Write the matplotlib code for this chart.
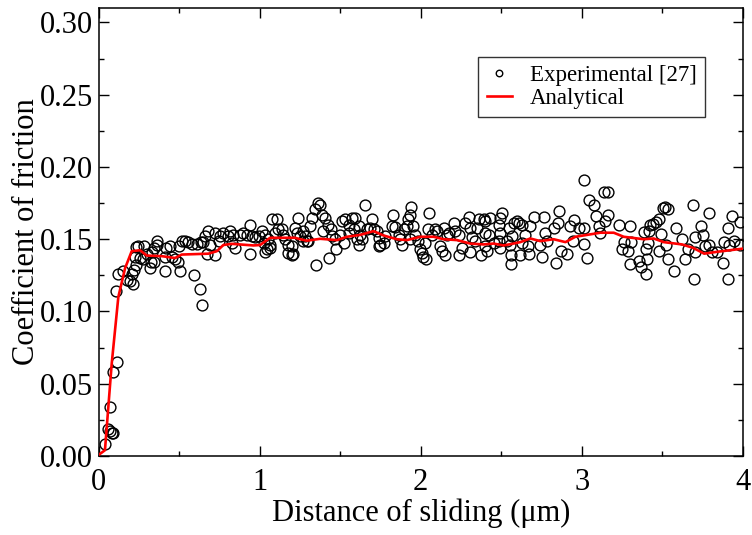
import matplotlib
matplotlib.use("Agg")
from matplotlib import pyplot as plt
from matplotlib.ticker import MultipleLocator, FormatStrFormatter

plt.rcParams['font.family'] = ['Liberation Serif', 'DejaVu Serif']

# Experimental points (distance in um, coefficient of friction)
exp_x = [0.040, 0.057, 0.071, 0.082, 0.092, 0.071, 0.092, 0.113,
         0.107, 0.119, 0.154, 0.179, 0.194, 0.212, 0.206, 0.222, 0.231,
         0.231, 0.247, 0.284, 0.227, 0.258, 0.278, 0.320, 0.326, 0.347,
         0.299, 0.334, 0.347, 0.361, 0.365, 0.413, 0.417, 0.444, 0.413,
         0.455, 0.475, 0.492, 0.508, 0.500, 0.517, 0.537, 0.558, 0.583,
         0.610, 0.637, 0.651, 0.595, 0.630, 0.641, 0.661, 0.682, 0.724,
         0.755, 0.775, 0.672, 0.724, 0.693, 0.749,
         0.817, 0.837, 0.806, 0.827, 0.848, 0.879, 0.899, 0.920, 0.941,
         0.952, 0.972, 0.993, 1.017, 1.034, 0.941, 1.030, 1.045, 1.065,
         1.055, 1.076, 1.107, 1.096, 1.117, 1.138, 1.148, 1.158, 1.179,
         1.200, 1.200, 1.220, 1.241, 1.231, 1.252, 1.272, 1.283, 1.293,
         1.314, 1.328, 1.345, 1.361, 1.376, 1.386, 1.407, 1.396, 1.427,
         1.444, 1.448, 1.469, 1.500, 1.510, 1.531, 1.552, 1.572, 1.556,
         1.583, 1.034, 1.065, 1.179, 1.210, 1.272, 1.303, 1.349, 1.432,
         1.473, 1.521,
         1.593, 1.614, 1.624, 1.604, 1.614, 1.635, 1.651, 1.666, 1.686,
         1.697, 1.707, 1.728, 1.738, 1.748, 1.738, 1.769, 1.780, 1.821,
         1.825, 1.842, 1.862, 1.873, 1.883, 1.893, 1.914, 1.924, 1.935,
         1.941, 1.955, 1.935, 1.966, 1.986, 1.997, 2.007, 2.017, 2.032,
         2.028, 2.053, 2.045, 2.069, 2.090, 2.101, 2.121, 2.132, 2.152,
         2.142, 2.163, 2.173, 2.204, 2.214, 2.235, 2.256, 2.239, 2.272,
         2.301, 2.307, 2.318, 2.307, 2.339, 2.349, 2.359, 2.376, 2.390,
         2.396,
         2.401, 2.432, 2.421, 2.401, 2.411, 2.452, 2.483, 2.494, 2.504,
         2.494, 2.483, 2.494, 2.535, 2.545, 2.566, 2.576, 2.556, 2.562,
         2.562, 2.597, 2.608, 2.618, 2.628, 2.649, 2.666, 2.670, 2.680,
         2.701, 2.742, 2.753, 2.763, 2.769, 2.784, 2.825, 2.840, 2.852,
         2.860, 2.873, 2.908, 2.929, 2.949, 2.943, 2.980, 3.011, 3.016,
         3.032, 3.014, 3.047, 3.073, 3.088, 3.104, 3.115, 3.135, 3.163,
         3.146, 3.163, 2.628,
         3.229, 3.301, 3.260, 3.250, 3.287, 3.307, 3.301, 3.353, 3.370,
         3.401, 3.405, 3.395, 3.411, 3.384, 3.415, 3.425, 3.440, 3.461,
         3.481, 3.502, 3.519, 3.535, 3.494, 3.477, 3.523, 3.535, 3.570,
         3.585, 3.622, 3.638, 3.660, 3.688, 3.705, 3.701, 3.697, 3.742,
         3.750, 3.788, 3.764, 3.788, 3.809, 3.840, 3.875, 3.881, 3.908,
         3.912, 3.908, 3.933, 3.943, 3.984, 3.984]
exp_y = [0.008, 0.019, 0.017, 0.016, 0.016, 0.034, 0.058, 0.065,
         0.114, 0.126, 0.128, 0.122, 0.121, 0.119, 0.126, 0.129, 0.132,
         0.1445, 0.1452, 0.1452, 0.138, 0.137, 0.136, 0.130, 0.134, 0.134,
         0.140, 0.141, 0.144, 0.146, 0.149, 0.128, 0.144, 0.145, 0.138,
         0.138, 0.136, 0.134, 0.128, 0.145, 0.149, 0.149, 0.148, 0.147,
         0.147, 0.148, 0.148, 0.1255, 0.1156, 0.1043, 0.152, 0.156, 0.154,
         0.152, 0.1545, 0.140, 0.139, 0.146, 0.149,
         0.1556, 0.153, 0.152, 0.1475, 0.144, 0.153, 0.1545, 0.153, 0.160,
         0.152, 0.1515, 0.152, 0.1556, 0.153, 0.140, 0.1475, 0.143, 0.146,
         0.150, 0.1637, 0.1637, 0.1545, 0.157, 0.157, 0.153, 0.150, 0.146,
         0.1394, 0.145, 0.158, 0.165, 0.1545, 0.152, 0.1556, 0.152, 0.149,
         0.159, 0.165, 0.1706, 0.1753, 0.174, 0.167, 0.165, 0.1556, 0.160,
         0.157, 0.152, 0.150, 0.153, 0.1625, 0.1637, 0.160, 0.1644, 0.1545,
         0.157, 0.1413, 0.144, 0.1406, 0.140, 0.1487, 0.149, 0.132, 0.137,
         0.143, 0.1475,
         0.165, 0.159, 0.153, 0.1503, 0.146, 0.150, 0.1736, 0.157, 0.158,
         0.1637, 0.157, 0.1556, 0.151, 0.146, 0.145, 0.1475, 0.152, 0.159,
         0.1667, 0.1584, 0.153, 0.150, 0.146, 0.157, 0.159, 0.1637, 0.1667,
         0.1722, 0.159, 0.150, 0.153, 0.1487, 0.143, 0.1406, 0.138, 0.1366,
         0.1475, 0.1683, 0.157, 0.153, 0.157, 0.1556, 0.145, 0.1417, 0.139,
         0.158, 0.153, 0.1545, 0.1614, 0.1556, 0.153, 0.144, 0.139, 0.1614,
         0.1653, 0.158, 0.1514, 0.1413, 0.1487, 0.158, 0.1637, 0.139, 0.1637,
         0.1545,
         0.1625, 0.165, 0.153, 0.145, 0.1417, 0.1475, 0.160, 0.165, 0.1683,
         0.1545, 0.1487, 0.144, 0.1487, 0.158, 0.152, 0.1614, 0.146, 0.139,
         0.133, 0.1625, 0.1614, 0.1394, 0.160, 0.153, 0.145, 0.140, 0.159,
         0.1653, 0.146, 0.138, 0.1653, 0.1545, 0.1487, 0.1575, 0.1337, 0.1614,
         0.1695, 0.1417, 0.140, 0.159, 0.163, 0.1487, 0.158, 0.1575, 0.147,
         0.137, 0.1907, 0.177, 0.1736, 0.166, 0.159, 0.1545, 0.183, 0.183,
         0.1625, 0.167, 0.1475,
         0.160, 0.159, 0.148, 0.143, 0.1417, 0.148, 0.133, 0.135, 0.1306,
         0.126, 0.136, 0.143, 0.1475, 0.155, 0.156, 0.160, 0.1607, 0.162,
         0.1637, 0.1713, 0.1722, 0.1706, 0.1538, 0.1417, 0.146, 0.136, 0.1283,
         0.1575, 0.150, 0.136, 0.143, 0.1736, 0.1514, 0.1413, 0.1226, 0.159,
         0.153, 0.1683, 0.145, 0.146, 0.1413, 0.1413, 0.1337, 0.148, 0.1575,
         0.1459, 0.1226, 0.166, 0.149, 0.162, 0.1459]

# Analytical curve
ana_x = [0.0, 0.040, 0.082, 0.123, 0.165, 0.206, 0.258, 0.299, 0.392,
         0.475, 0.517, 0.682, 0.734, 0.775, 0.827, 0.962, 1.003, 1.065,
         1.220, 1.252, 1.293, 1.376, 1.480, 1.542, 1.624, 1.707, 1.769,
         1.852, 1.914, 1.997, 2.080, 2.142, 2.225, 2.307, 2.390, 2.452,
         2.514, 2.576, 2.618, 2.680, 2.742, 2.825, 2.898, 2.960, 3.032,
         3.115, 3.198, 3.260, 3.384, 3.446, 3.508, 3.622, 3.691, 3.759,
         3.840, 4.0]
ana_y = [0.0007, 0.004, 0.064, 0.110, 0.130, 0.1417, 0.1424, 0.1387, 0.1383,
         0.137, 0.1394, 0.140, 0.1417, 0.146, 0.1468, 0.1457, 0.146, 0.151,
         0.151, 0.150, 0.149, 0.1503, 0.1494, 0.1517, 0.153, 0.1556, 0.1526,
         0.150, 0.1494, 0.1517, 0.1517, 0.150, 0.1494, 0.147, 0.1464, 0.147,
         0.1457, 0.147, 0.148, 0.1505, 0.1487, 0.150, 0.148, 0.1517, 0.153,
         0.1545, 0.1545, 0.1517, 0.150, 0.1505, 0.148, 0.1464, 0.144, 0.140,
         0.1413, 0.1435]

fig = plt.figure(figsize=(7.52, 5.35), dpi=100)
ax = fig.add_axes([0.131, 0.1477, 0.857, 0.8373])

ax.plot(exp_x, exp_y, 'o', mfc='none', mec='black', ms=7.8, mew=1.0,
        label='Experimental [27]', zorder=2)
ax.plot(ana_x, ana_y, color='red', lw=1.9, label='Analytical', zorder=3)

ax.set_xlim(0, 4)
ax.set_ylim(0, 0.31)
ax.xaxis.set_major_locator(MultipleLocator(1))
ax.xaxis.set_minor_locator(MultipleLocator(0.5))
ax.yaxis.set_major_locator(MultipleLocator(0.05))
ax.yaxis.set_minor_locator(MultipleLocator(0.025))
ax.yaxis.set_major_formatter(FormatStrFormatter('%.2f'))
ax.tick_params(which='both', direction='in', top=True, right=True,
               labelsize=22, width=1.0)
ax.tick_params(axis='x', which='major', pad=9)
ax.tick_params(axis='y', which='major', pad=4)
ax.tick_params(which='major', length=7)
ax.tick_params(which='minor', length=3.5)
for s in ax.spines.values():
    s.set_linewidth(1.1)

ax.set_xlabel('Distance of sliding (\u03bcm)', fontsize=22, labelpad=0.5)
ax.set_ylabel('Coefficient of friction', fontsize=22, labelpad=-1)

leg = ax.legend(loc='upper right', bbox_to_anchor=(0.941, 0.891),
                borderaxespad=0, fontsize=16.5, frameon=True, fancybox=False,
                markerscale=0.6, handlelength=1.1, handletextpad=0.8,
                labelspacing=0.1, borderpad=0.35)
leg.get_frame().set_edgecolor('black')
leg.get_frame().set_linewidth(1.0)

fig.savefig('out.png', dpi=100)
